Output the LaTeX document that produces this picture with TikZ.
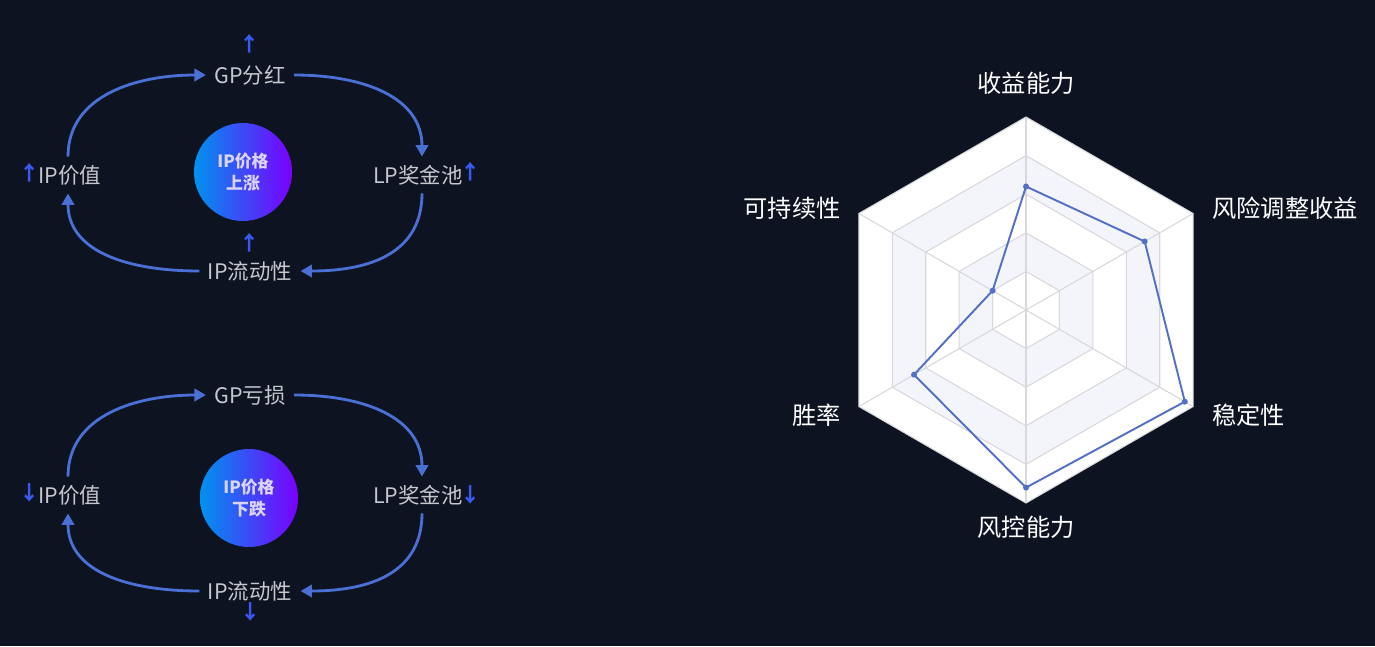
\documentclass[tikz,border=0pt]{standalone}
\usepackage{fontspec}
\setmainfont{Noto Sans CJK SC}
\usetikzlibrary{arrows.meta, calc}

\definecolor{bg}{HTML}{0D1321}
\definecolor{flowblue}{HTML}{4A70D6}
\definecolor{tipblue}{HTML}{3A58F2}
\definecolor{labelgray}{HTML}{C6C8CE}
\definecolor{ringline}{HTML}{D8D8DC}
\definecolor{ringfill}{HTML}{F4F5FB}
\definecolor{datablue}{HTML}{5470C6}
\definecolor{hubleft}{HTML}{0092EE}
\definecolor{hubright}{HTML}{7A00FF}
\definecolor{hubtext}{HTML}{DAD4FF}

\tikzset{
  flow/.style={draw=flowblue, line width=1.6pt, -{Triangle[length=6.5pt,width=7pt]}},
  item/.style={text=labelgray, font=\fontsize{12.2}{14}\selectfont, inner sep=0pt, outer sep=0.17cm},
  updown/.style={text=tipblue, font=\bfseries\fontsize{11.5}{13}\selectfont, inner sep=0pt},
  hub/.style={circle, minimum size=1.96cm, inner sep=0pt, left color=hubleft, right color=hubright,
    text=hubtext, align=center, font=\bfseries\fontsize{9.6}{12.5}\selectfont},
  axisname/.style={text=white, font=\fontsize{13.8}{16}\selectfont, inner sep=0pt},
  ring/.style={draw=ringline, line width=0.6pt},
  dataline/.style={draw=datablue, line width=1.1pt}
}

\begin{document}
\begin{tikzpicture}[x=0.02cm, y=-0.02cm]
\fill[bg] (0,0) rectangle (1375,646);
\useasboundingbox (0,0) rectangle (1375,646);

% price up
\node[hub] (hub1) at (243,172) {IP价格\\上涨};
\node[item] (gp1) at (250,75) {GP分红};
\node[item] (lp1) at (418,175) {LP奖金池};
\node[item] (val1) at (70,175) {IP价值};
\node[item] (liq1) at (250,271) {IP流动性};
\node[updown] (u1) at (250,44) {↑};
\node[updown] (u2) at (30,173) {↑};
\node[updown] (u3) at (471,172) {↑};
\node[updown] (u4) at (250,243) {↑};

\draw[flow] ($(val1.north)+(-2,0)$) .. controls +(0,-62) and +(-68,0) .. (gp1.west);
\draw[flow] (gp1.east) .. controls +(72,0) and +(0,-58) .. ($(lp1.north)+(4,0)$);
\draw[flow] ($(lp1.south)+(4,0)$) .. controls +(0,58) and +(72,0) .. (liq1.east);
\draw[flow] (liq1.west) .. controls +(-72,0) and +(0,58) .. ($(val1.south)+(-2,0)$);

% price down
\node[hub] (hub2) at (249,498) {IP价格\\下跌};
\node[item] (gp2) at (250,395) {GP亏损};
\node[item] (lp2) at (418,495) {LP奖金池};
\node[item] (val2) at (70,495) {IP价值};
\node[item] (liq2) at (250,591) {IP流动性};
\node[updown] (d1) at (30,493) {↓};
\node[updown] (d2) at (471,495) {↓};
\node[updown] (d3) at (251,612) {↓};

\draw[flow] ($(val2.north)+(-2,0)$) .. controls +(0,-62) and +(-68,0) .. (gp2.west);
\draw[flow] (gp2.east) .. controls +(72,0) and +(0,-58) .. ($(lp2.north)+(4,0)$);
\draw[flow] ($(lp2.south)+(4,0)$) .. controls +(0,58) and +(72,0) .. (liq2.east);
\draw[flow] (liq2.west) .. controls +(-72,0) and +(0,58) .. ($(val2.south)+(-2,0)$);

% radar
\begin{scope}[shift={(1026,310)}, y=0.02cm]
\def\R{193}
\foreach \k/\c in {5/white,4/ringfill,3/white,2/ringfill,1/white}
  \filldraw[ring, fill=\c] (90:{\k*\R/5}) -- (30:{\k*\R/5}) -- (-30:{\k*\R/5})
    -- (-90:{\k*\R/5}) -- (-150:{\k*\R/5}) -- (150:{\k*\R/5}) -- cycle;
\foreach \a in {90,30,-30,-90,-150,150}
  \draw[ring] (0,0) -- (\a:\R);

\draw[dataline] (90:{0.64*\R}) -- (30:{0.71*\R}) -- (-30:{0.95*\R})
  -- (-90:{0.92*\R}) -- (-150:{0.67*\R}) -- (150:{0.20*\R}) -- cycle;
\foreach \a/\v in {90/0.64,30/0.71,-30/0.95,-90/0.92,-150/0.67,150/0.20}
  \fill[datablue] (\a:{\v*\R}) circle (3);

\node[axisname] (n1) at (0,227) {收益能力};
\node[axisname, anchor=west] (n2) at (186,102) {风险调整收益};
\node[axisname, anchor=west] (n3) at (186,-105) {稳定性};
\node[axisname] (n4) at (0,-217) {风控能力};
\node[axisname, anchor=east] (n5) at (-185,-105) {胜率};
\node[axisname, anchor=east] (n6) at (-185,102) {可持续性};
\end{scope}
\end{tikzpicture}
\end{document}
